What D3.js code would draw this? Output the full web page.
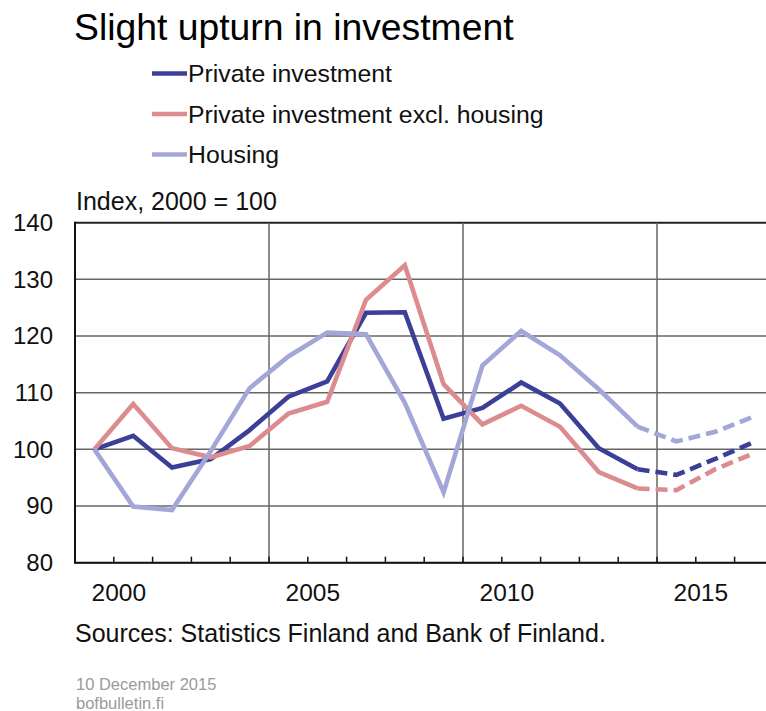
<!DOCTYPE html>
<html>
<head>
<meta charset="utf-8">
<script src="https://cdn.jsdelivr.net/npm/d3@7"></script>
<style>
  body { margin: 0; background: #fff; }
  svg { display: block; font-family: "Liberation Sans", Arial, sans-serif; }
</style>
</head>
<body>
<svg class="chart" width="766" height="711"></svg>
<script>
var years = [2000, 2001, 2002, 2003, 2004, 2005, 2006, 2007, 2008, 2009, 2010, 2011, 2012, 2013, 2014, 2015, 2016, 2017];
var privateInv = [100, 102.4, 96.8, 98.3, 103.4, 109.3, 112.0, 124.1, 124.2, 105.4, 107.3, 111.8, 108.1, 100.2, 96.5, 95.5, 98.3, 101.3];
var exclHousing = [100, 108.0, 100.2, 98.6, 100.6, 106.3, 108.4, 126.4, 132.5, 111.5, 104.4, 107.7, 104.0, 96.0, 93.1, 92.8, 96.5, 99.3];
var housing = [100, 89.9, 89.3, 99.7, 110.8, 116.4, 120.6, 120.3, 108.2, 92.4, 114.8, 120.9, 116.6, 110.6, 104.0, 101.4, 103.1, 105.8];
var lastActual = 2014;
var yTicks = [80, 90, 100, 110, 120, 130, 140];
var xLabels = [2000, 2005, 2010, 2015];
var gridYears = [2005, 2010, 2015];

var seriesNames = ["Private investment", "Private investment excl. housing", "Housing"];
var seriesColors = ["#3b3f98", "#dc8b8f", "#a2a7d8"];
var seriesValues = [privateInv, exclHousing, housing];

var svg = d3.select("svg.chart");

var x = d3.scaleBand()
    .domain(years)
    .range([75, 75 + 38.8 * years.length])
    .padding(0);
var y = d3.scaleLinear()
    .domain([80, 140])
    .range([562.7, 222.7]);

var plotLeft = x.range()[0], plotRight = x.range()[1];

// horizontal grid
svg.append("g").selectAll("line")
    .data(yTicks)
    .enter().append("line")
    .attr("x1", plotLeft).attr("x2", plotRight)
    .attr("y1", function (d) { return y(d); })
    .attr("y2", function (d) { return y(d); })
    .attr("stroke", function (d) { return d === 140 ? "#222" : "#666"; })
    .attr("stroke-width", function (d) { return d === 140 ? 2 : 1.5; });

// vertical grid at year boundaries
svg.append("g").selectAll("line")
    .data(gridYears)
    .enter().append("line")
    .attr("x1", function (d) { return x(d); })
    .attr("x2", function (d) { return x(d); })
    .attr("y1", y(140)).attr("y2", y(80))
    .attr("stroke", "#666")
    .attr("stroke-width", 1.5);

// y tick labels
svg.append("g").selectAll("text")
    .data(yTicks)
    .enter().append("text")
    .attr("x", 53)
    .attr("y", function (d) { return y(d); })
    .attr("dy", "0.35em")
    .attr("text-anchor", "end")
    .attr("font-size", 24)
    .attr("fill", "#111")
    .text(function (d) { return d; });

// lines
var line = d3.line()
    .x(function (d) { return x(d.year) + x.bandwidth() / 2; })
    .y(function (d) { return y(d.value); });

seriesValues.forEach(function (vals, i) {
    var pts = years.map(function (yr, j) { return { year: yr, value: vals[j] }; });
    var actual = pts.filter(function (d) { return d.year <= lastActual; });
    var forecast = pts.filter(function (d) { return d.year >= lastActual; });
    svg.append("path")
        .attr("d", line(actual))
        .attr("fill", "none")
        .attr("stroke", seriesColors[i])
        .attr("stroke-width", 4.6)
        .attr("stroke-linejoin", "miter");
    svg.append("path")
        .attr("d", line(forecast))
        .attr("fill", "none")
        .attr("stroke", seriesColors[i])
        .attr("stroke-width", 4.6)
        .attr("stroke-dasharray", "12,6");
});

// axes frame
svg.append("line")
    .attr("x1", plotLeft).attr("x2", plotLeft)
    .attr("y1", y(140) - 1).attr("y2", y(80) + 1)
    .attr("stroke", "#111").attr("stroke-width", 2);
svg.append("line")
    .attr("x1", plotLeft).attr("x2", plotRight)
    .attr("y1", y(80)).attr("y2", y(80))
    .attr("stroke", "#111").attr("stroke-width", 2);

// x ticks at category boundaries, pointing into the plot
svg.append("g").selectAll("line")
    .data(years.slice(1))
    .enter().append("line")
    .attr("x1", function (d) { return x(d); })
    .attr("x2", function (d) { return x(d); })
    .attr("y1", y(80)).attr("y2", y(80) - 6)
    .attr("stroke", "#111").attr("stroke-width", 1.5);

svg.append("g").selectAll("text")
    .data(xLabels)
    .enter().append("text")
    .attr("x", function (d) { return x(d) + x.bandwidth() + 5; })
    .attr("y", 601)
    .attr("text-anchor", "middle")
    .attr("font-size", 24.5)
    .attr("fill", "#111")
    .text(function (d) { return d; });

// titles and notes
svg.append("text")
    .attr("x", 74).attr("y", 40)
    .attr("font-size", 37.3)
    .attr("fill", "#000")
    .text("Slight upturn in investment");

svg.append("text")
    .attr("x", 76).attr("y", 210)
    .attr("font-size", 25)
    .attr("fill", "#111")
    .text("Index, 2000 = 100");

svg.append("text")
    .attr("x", 75).attr("y", 642)
    .attr("font-size", 25)
    .attr("fill", "#111")
    .text("Sources: Statistics Finland and Bank of Finland.");

svg.append("text")
    .attr("x", 76).attr("y", 690)
    .attr("font-size", 16.5)
    .attr("fill", "#9a9a9a")
    .text("10 December 2015");
svg.append("text")
    .attr("x", 76).attr("y", 709)
    .attr("font-size", 16.5)
    .attr("fill", "#9a9a9a")
    .text("bofbulletin.fi");

// legend
var legend = svg.append("g").selectAll("g")
    .data(seriesNames)
    .enter().append("g")
    .attr("transform", function (d, i) { return "translate(152," + (73.5 + i * 40.5) + ")"; });
legend.append("line")
    .attr("x1", 0).attr("x2", 35)
    .attr("y1", 0).attr("y2", 0)
    .attr("stroke", function (d, i) { return seriesColors[i]; })
    .attr("stroke-width", 4.6);
legend.append("text")
    .attr("x", 36).attr("y", 8.8)
    .attr("font-size", 24.8)
    .attr("fill", "#111")
    .text(function (d) { return d; });
</script>
</body>
</html>
